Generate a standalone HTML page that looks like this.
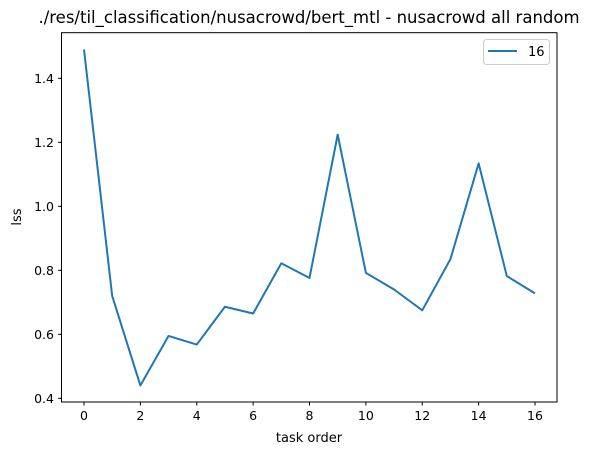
<!DOCTYPE html>
<html><head><meta charset="utf-8"><style>
body{margin:0;background:#fff;}
svg text{font-family:"DejaVu Sans","Liberation Sans",sans-serif;fill:#000;}
</style></head><body>
<svg id="chart" width="591" height="455" xmlns="http://www.w3.org/2000/svg">
<rect width="591" height="455" fill="#fff"/>
<text x="309" y="23" font-size="16.5" text-anchor="middle">./res/til_classification/nusacrowd/bert_mtl - nusacrowd all random</text>
<g id="ticks"></g>
<polyline id="line" fill="none" stroke="#1f77b4" stroke-width="2" stroke-linejoin="round"/>
<rect x="61.5" y="32.7" width="495.5" height="369.3" fill="none" stroke="#000" stroke-width="1"/>
<text x="309" y="442" font-size="13" text-anchor="middle">task order</text>
<text x="21" y="217" font-size="13" text-anchor="middle" transform="rotate(-90 21 217)">lss</text>
<g>
<rect x="483.5" y="39.5" width="66" height="25" rx="3" fill="#fff" stroke="#ccc"/>
<line x1="488" y1="51" x2="517" y2="51" stroke="#1f77b4" stroke-width="2"/>
<text x="528" y="56" font-size="13">16</text>
</g>
</svg>
<script>
const xValues=[0,1,2,3,4,5,6,7,8,9,10,11,12,13,14,15,16];
const lossValues=[1.49,0.72,0.44,0.595,0.568,0.686,0.665,0.822,0.776,1.224,0.792,0.74,0.675,0.835,1.134,0.782,0.728];
const xTicks=[0,2,4,6,8,10,12,14,16];
const yTicks=[0.4,0.6,0.8,1.0,1.2,1.4];
const xs=v=>84+v*(535-84)/16;
const ys=v=>398.3-(v-0.4)*320;
const ns="http://www.w3.org/2000/svg";
const line=document.getElementById('line');
line.setAttribute('points',xValues.map((x,i)=>xs(x)+','+ys(lossValues[i])).join(' '));
const g=document.getElementById('ticks');
function mk(tag,attrs){const e=document.createElementNS(ns,tag);for(const k in attrs)e.setAttribute(k,attrs[k]);g.appendChild(e);return e;}
xTicks.forEach(t=>{
  const l=mk('line',{x1:xs(t),x2:xs(t),y1:402,y2:405.5,stroke:'#000'});
  
  
  const tx=mk('text',{x:xs(t),y:420,'font-size':'12.5','text-anchor':'middle'});
  tx.textContent=t;
  
  
});
yTicks.forEach(t=>{
  const l=mk('line',{x1:58,x2:61.5,y1:ys(t),y2:ys(t),stroke:'#000'});
  
  
  const tx=mk('text',{x:54,y:ys(t)+4.5,'font-size':'12.5','text-anchor':'end'});
  tx.textContent=t.toFixed(1);
  
  
});
</script>
</body></html>
